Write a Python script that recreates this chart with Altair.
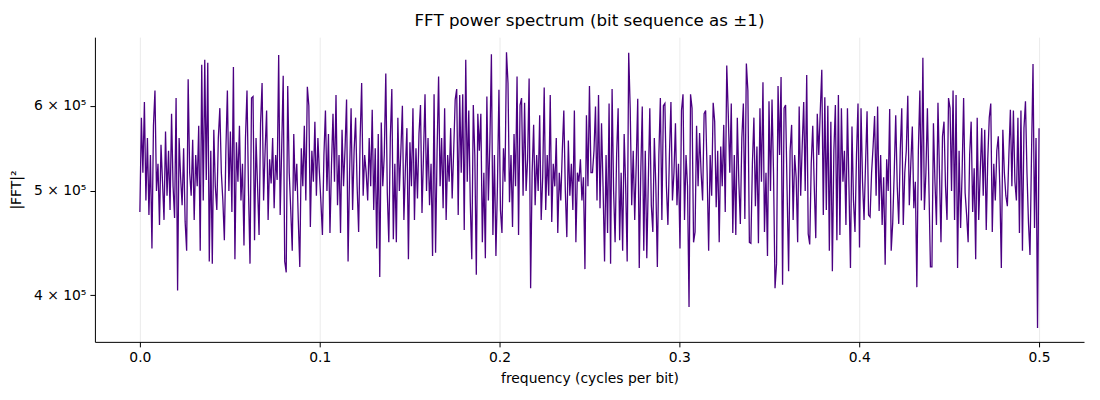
import altair as alt
import numpy as np
import pandas as pd

# |FFT|^2 values in thousands left to right
seg1 = [478, 585, 520, 605, 490, 560, 475, 540, 442, 575, 620, 500, 530, 465, 552,
        510, 470, 568, 495, 545, 480, 590, 505, 472, 610, 404, 560, 515, 485, 548,
        468, 440, 635, 520, 495, 558, 470, 540, 505, 575, 440, 655, 490, 662, 512,
        658, 430, 545, 428, 570, 505, 480, 560, 597, 520, 490, 450, 545, 620, 500,
        568, 478, 652, 432, 555, 510, 575, 490, 530, 445, 560, 620, 500, 428, 610]
seg2 = [612, 450, 560, 505, 455, 578, 630, 490, 545, 594, 470, 535, 508, 560, 482,
        540, 512, 669, 475, 548, 640, 430, 420, 626, 520, 480, 440, 565, 500, 530,
        470, 425, 548, 505, 575, 490, 625, 600, 463, 545, 510, 580, 495, 560, 520,
        488, 455, 540, 594, 500, 565, 457, 528, 590, 510, 614, 485, 540, 457, 570,
        505, 548, 608, 430, 520, 597, 480, 545, 585, 505, 458, 560, 630, 495, 540]
seg3 = [520, 490, 560, 505, 595, 480, 548, 442, 565, 416, 579, 505, 540, 643, 498,
        448, 560, 622, 451, 530, 448, 585, 500, 545, 600, 470, 525, 572, 432, 555,
        505, 597, 470, 548, 492, 565, 601, 477, 540, 615, 500, 560, 485, 530, 435,
        615, 438, 545, 639, 505, 560, 482, 597, 470, 540, 510, 572, 492, 545, 608,
        622, 475, 614, 520, 615, 460, 662, 510, 594, 488, 432, 601, 540, 418, 590]
seg4 = [545, 590, 448, 520, 433, 612, 490, 555, 670, 455, 540, 435, 505, 621, 480,
        457, 548, 510, 673, 630, 488, 540, 463, 565, 505, 639, 455, 601, 610, 495,
        604, 500, 535, 636, 406, 520, 576, 485, 540, 500, 588, 470, 515, 624, 480,
        540, 495, 614, 468, 530, 505, 560, 457, 520, 490, 545, 594, 500, 453, 557,
        495, 530, 480, 594, 448, 520, 510, 535, 490, 515, 423, 588, 505, 626, 520]
seg5 = [520, 545, 599, 490, 614, 482, 578, 505, 430, 540, 457, 603, 428, 622, 500,
        448, 540, 597, 450, 520, 440, 565, 505, 430, 672, 597, 485, 545, 470, 530,
        609, 424, 520, 599, 440, 545, 433, 510, 597, 485, 458, 560, 505, 425, 540,
        610, 470, 600, 603, 505, 465, 540, 605, 490, 520, 578, 485, 530, 442, 594,
        615, 470, 540, 505, 390, 615, 597, 448, 458, 575, 505, 566, 520, 490, 590]
seg6 = [594, 520, 440, 540, 495, 604, 580, 483, 545, 448, 550, 505, 576, 478, 654,
        590, 520, 603, 457, 540, 455, 585, 510, 466, 560, 603, 471, 657, 620, 448,
        447, 530, 585, 484, 550, 447, 597, 510, 631, 458, 520, 435, 606, 500, 608,
        520, 406, 428, 626, 540, 638, 409, 597, 601, 500, 421, 545, 576, 470, 540,
        515, 448, 599, 495, 550, 605, 500, 641, 456, 446, 530, 575, 505, 452, 590]
seg7 = [540, 594, 648, 475, 611, 480, 600, 440, 580, 421, 545, 601, 450, 614, 455,
        597, 510, 545, 465, 597, 505, 424, 574, 490, 458, 540, 603, 443, 597, 510,
        470, 530, 593, 475, 473, 520, 550, 587, 495, 599, 479, 540, 465, 515, 427,
        535, 500, 596, 440, 467, 520, 588, 505, 466, 545, 597, 465, 520, 545, 613,
        485, 530, 574, 482, 510, 407, 545, 620, 490, 665, 480, 520, 597, 505, 425]
seg8 = [425, 578, 510, 465, 604, 520, 448, 562, 580, 505, 470, 610, 597, 500, 620,
        470, 614, 424, 545, 462, 520, 610, 498, 475, 448, 540, 580, 478, 525, 432,
        585, 470, 520, 572, 495, 570, 460, 535, 585, 603, 458, 530, 490, 545, 562,
        505, 424, 570, 520, 495, 484, 540, 595, 505, 594, 510, 490, 585, 457, 594,
        440, 572, 606, 520, 467, 436, 540, 656, 462, 560, 373, 572]

power_k = seg1 + seg2 + seg3 + seg4 + seg5 + seg6 + seg7 + seg8
freq = np.linspace(0.0, 0.5, len(power_k))  # evenly spaced frequency bins

x_ticks = [0.0, 0.1, 0.2, 0.3, 0.4, 0.5]
y_ticks = [400000, 500000, 600000]

df = pd.DataFrame({"freq": freq, "power": [v * 1000 for v in power_k]})

FONT = "DejaVu Sans"

line = alt.Chart(df).mark_line(color="#4B0082", strokeWidth=1.3, clip=True).encode(
    x=alt.X("freq:Q",
            scale=alt.Scale(domain=[-0.025, 0.525], nice=False, zero=False),
            axis=alt.Axis(title="frequency (cycles per bit)", values=x_ticks,
                          format=".1f", grid=True, gridColor="#e6e6e6",
                          gridWidth=0.8, tickSize=5, labelPadding=4,
                          titlePadding=7)),
    y=alt.Y("power:Q",
            scale=alt.Scale(type="log", domain=[362000, 695000], nice=False,
                            zero=False),
            axis=alt.Axis(title="|FFT|²", values=y_ticks, grid=False,
                          labelExpr="format(datum.value / 100000, 'd') + ' × 10⁵'",
                          tickSize=5, labelPadding=4, titlePadding=10)),
)

chart = line.properties(
    width=990,
    height=305,
    title=alt.TitleParams("FFT power spectrum (bit sequence as ±1)", fontSize=16.7,
                          font=FONT, fontWeight="normal", color="black",
                          anchor="middle", offset=7),
    autosize=alt.AutoSizeParams(type="none"),
    padding={"left": 87, "top": 29, "right": 8, "bottom": 50},
).configure_view(stroke=None).configure_axis(
    domainColor="black", domainWidth=1, tickColor="black",
    labelFont=FONT, titleFont=FONT, labelFontSize=13.9, titleFontSize=13.9,
    labelColor="black", titleColor="black", titleFontWeight="normal",
)

chart.save("out.html", embed_options={"renderer": "svg", "actions": False})
